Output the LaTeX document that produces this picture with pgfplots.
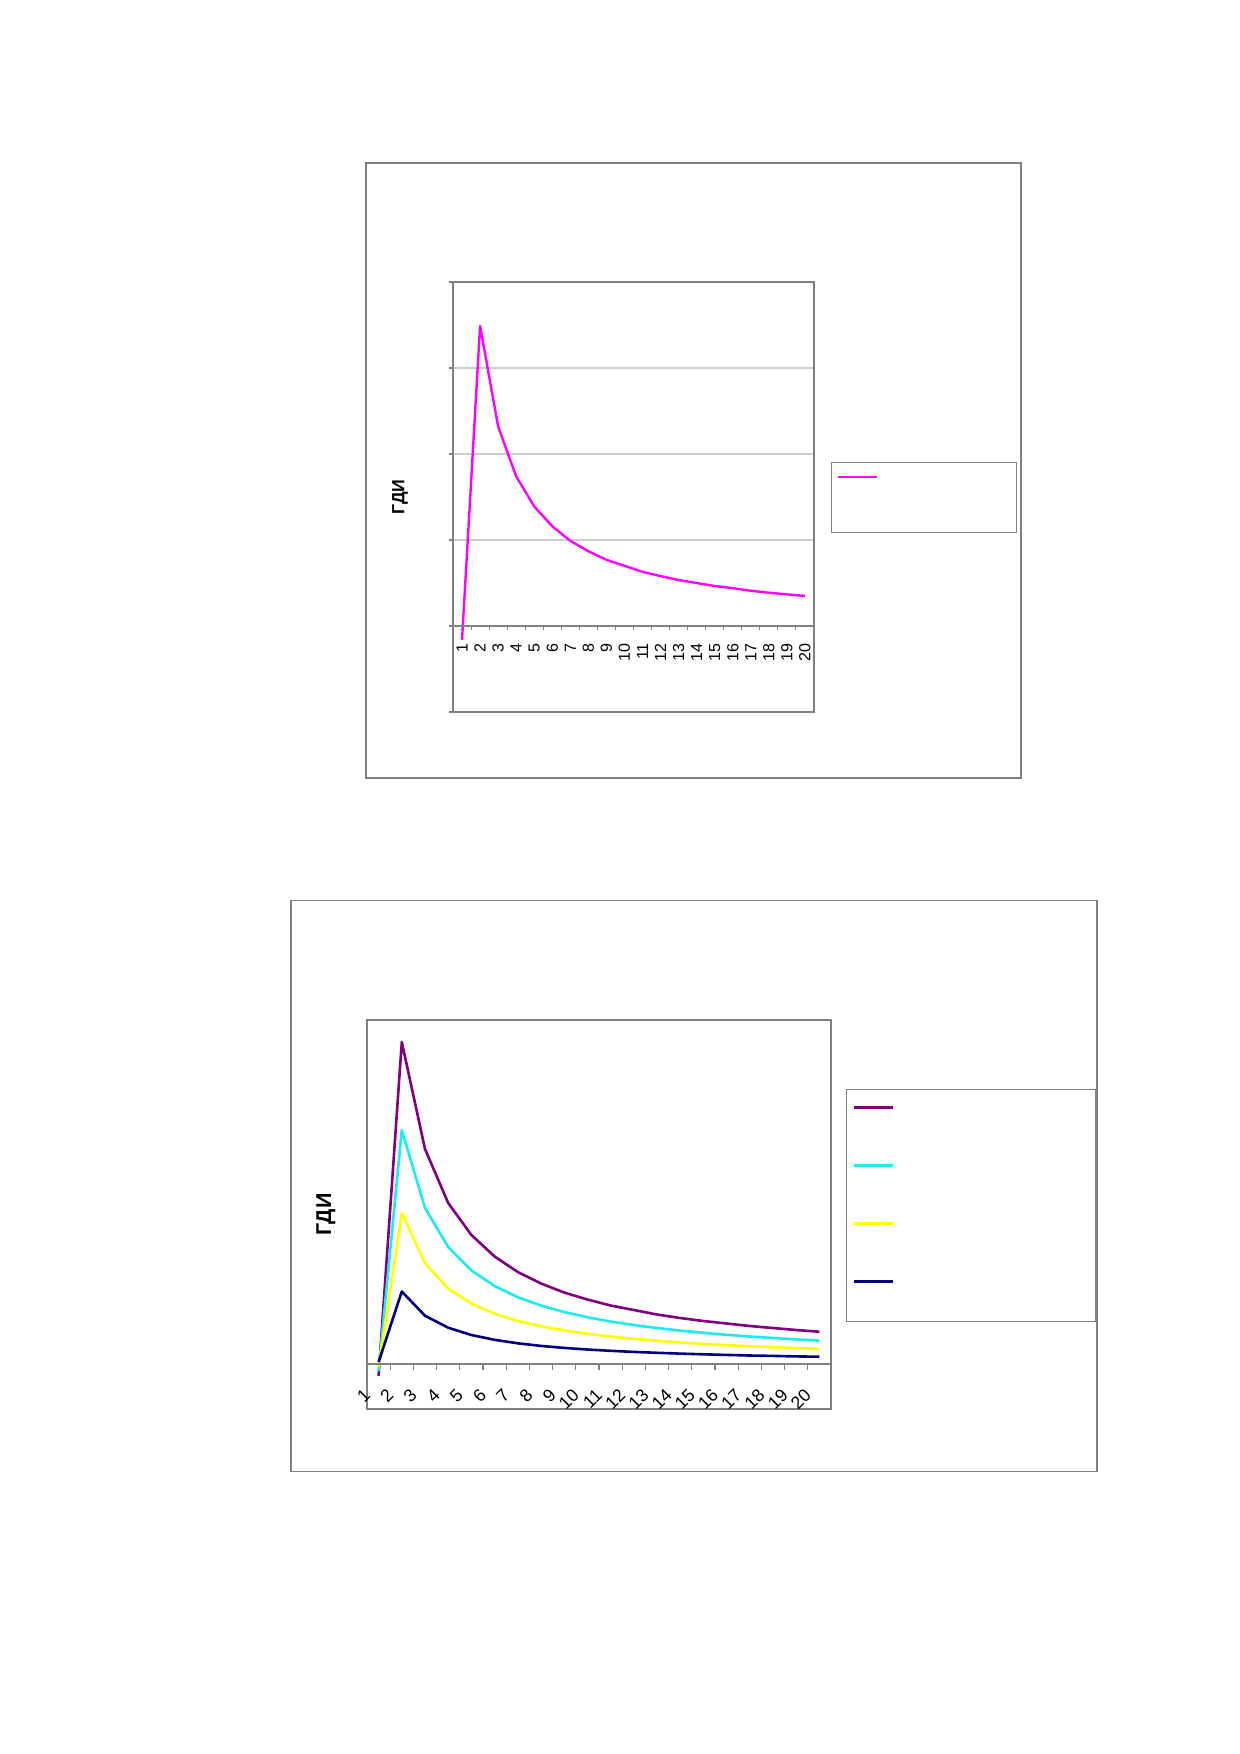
\documentclass[border=0pt]{standalone}
\usepackage{pgfplots}
\pgfplotsset{compat=1.18}
\usepackage{fontspec}
\setmainfont{Liberation Sans}
\definecolor{xlpurple}{RGB}{128,0,128}
\definecolor{xlcyan}{RGB}{30,235,240}
\definecolor{xlyellow}{RGB}{255,255,0}
\definecolor{xlnavy}{RGB}{0,0,128}
\definecolor{xlmag}{RGB}{255,0,255}
\definecolor{frm}{RGB}{128,128,128}

\pgfplotstableread{
x y
1 -0.16
2 3.49
3 2.32
4 1.74
5 1.39
6 1.16
7 0.99
8 0.87
9 0.77
10 0.70
11 0.63
12 0.58
13 0.535
14 0.50
15 0.465
16 0.44
17 0.41
18 0.387
19 0.368
20 0.35
}\chartone

\pgfplotstableread{
x purple cyan yellow navy
1 -12 -7 -3 2
2 322 234 151 72.5
3 215 156 100.7 48.3
4 161 117 75.5 36.3
5 129 93.6 60.4 29
6 107.5 78 50.3 24.2
7 92 66.8 43.1 20.7
8 80.5 58.5 37.8 18.1
9 71.5 52 33.6 16.1
10 64.5 46.8 30.2 14.5
11 58.5 42.5 27.5 13.2
12 54 39 25.2 12.1
13 49.5 36 23.2 11.2
14 46 33.4 21.6 10.4
15 43 31.2 20.1 9.7
16 40.5 29.2 18.9 9.1
17 38 27.5 17.8 8.5
18 36 26 16.8 8.1
19 34 24.6 15.9 7.6
20 32.3 23.4 15.1 7.3
}\charttwo

\begin{document}
\begin{tikzpicture}
\fill[white] (0,0) rectangle (595pt,-842.32pt);
\useasboundingbox (0,0) rectangle (595pt,-842.32pt);
\draw[frm, line width=0.6pt] (175.76pt,-78.28pt) rectangle (490.31pt,-373.62pt);
\draw[frm, line width=0.6pt] (139.75pt,-432.44pt) rectangle (526.81pt,-706.65pt);

% ---------------- chart 1 ----------------
\begin{axis}[
  at={(217.54pt,-341.92pt)}, anchor=south west,
  scale only axis, width=173.36pt, height=206.50pt,
  xmin=0.5, xmax=20.5, ymin=-1, ymax=4,
  axis line style={frm, line width=1pt},
  xtick=\empty,
  ytick={-1,0,1,2,3,4}, yticklabels={}, ytick pos=left,
  tick align=outside, major tick length=2pt, tick style={frm, line width=0.5pt},
  ymajorgrids, grid style={gray!40, line width=0.5pt},
  ylabel={ГДИ},
  every axis y label/.style={at={(axis description cs:-0.1468,0.5)}, rotate=90, anchor=center, font=\fontsize{8.5}{10}\selectfont\bfseries},
  legend style={at={(1.0471,0.5814)}, anchor=north west, draw=frm, fill=white,
    inner sep=0pt, outer sep=0pt, row sep=0pt, column sep=0pt,
    nodes={inner sep=0pt, outer sep=0pt}},
  legend image code/.code={\draw[#1] (0pt,0pt) -- (18.7pt,0pt); \path (-2.9pt,6.7pt) (18.7pt,-25.9pt);},
]
\addplot[xlmag, line width=1.15pt, line join=round] table[x=x, y=y] {\chartone};
\addlegendentry{\rule{66.2pt}{0pt}}
\end{axis}
\begin{axis}[
  at={(217.54pt,-341.92pt)}, anchor=south west,
  scale only axis, width=173.36pt, height=206.50pt,
  xmin=0.5, xmax=20.5, ymin=-1, ymax=4,
  axis x line=middle, axis y line=none,
  x axis line style={-, frm, line width=0.6pt},
  xtick={1,2,3,4,5,6,7,8,9,10,11,12,13,14,15,16,17,18,19,20},
  xticklabels={1,2,3,4,5,6,7,8,9,10,11,12,13,14,15,16,17,18,19,20},
  major tick length=0pt,
  extra x ticks={0.5,1.5,...,20.5}, extra x tick labels={},
  extra x tick style={major tick length=2pt, tick align=outside, tick style={frm, line width=0.5pt}},
  xticklabel style={rotate=90, anchor=east, xshift=-4.8pt, font=\fontsize{7.7}{8}\selectfont},
]
\end{axis}

% ---------------- chart 2 ----------------
\begin{axis}[
  at={(176.24pt,-676.64pt)}, anchor=south west,
  scale only axis, width=222.82pt, height=186.81pt,
  xmin=0.5, xmax=20.5, ymin=-45, ymax=344,
  axis line style={frm, line width=1pt},
  xtick=\empty, ytick=\empty,
  ylabel={ГДИ},
  every axis y label/.style={at={(axis description cs:-0.0884,0.5)}, rotate=90, anchor=center, font=\fontsize{10.3}{12}\selectfont\bfseries},
  legend style={at={(1.0323,0.8226)}, anchor=north west, draw=frm, fill=white,
    inner sep=0pt, outer sep=0pt, row sep=0pt, column sep=0pt,
    nodes={inner sep=0pt, outer sep=0pt}},
  legend image code/.code={\draw[#1] (0pt,0pt) -- (18.7pt,0pt); \path (-3.36pt,8.2pt) (18.7pt,-18.4pt);},
]
\addplot[xlpurple, line width=1.25pt, line join=round] table[x=x, y=purple] {\charttwo};
\addlegendentry{\rule{96.5pt}{0pt}}
\addplot[xlcyan, line width=1.25pt, line join=round] table[x=x, y=cyan] {\charttwo};
\addlegendentry{\rule{96.5pt}{0pt}}
\addplot[xlyellow, line width=1.25pt, line join=round] table[x=x, y=yellow] {\charttwo};
\addlegendentry{\rule{96.5pt}{0pt}}
\addplot[xlnavy, line width=1.25pt, line join=round] table[x=x, y=navy] {\charttwo};
\addlegendentry{\rule{96.5pt}{0pt}}
\end{axis}
\begin{axis}[
  at={(176.24pt,-676.64pt)}, anchor=south west,
  scale only axis, width=222.82pt, height=186.81pt,
  xmin=0.5, xmax=20.5, ymin=-45, ymax=344,
  axis x line=middle, axis y line=none,
  x axis line style={-, frm, line width=0.6pt},
  xtick={1,2,3,4,5,6,7,8,9,10,11,12,13,14,15,16,17,18,19,20},
  xticklabels={1,2,3,4,5,6,7,8,9,10,11,12,13,14,15,16,17,18,19,20},
  major tick length=0pt,
  extra x ticks={0.5,1.5,...,20.5}, extra x tick labels={},
  extra x tick style={major tick length=2.7pt, tick align=outside, tick style={frm, line width=0.5pt}},
  xticklabel style={rotate=45, anchor=east, xshift=-10pt, yshift=-5.7pt, font=\fontsize{8.5}{9}\selectfont},
]
\end{axis}
\end{tikzpicture}
\end{document}
